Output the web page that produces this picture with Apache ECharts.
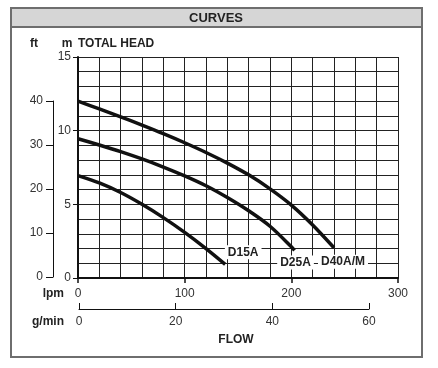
<!DOCTYPE html>
<html><head><meta charset="utf-8">
<script src="https://cdn.jsdelivr.net/npm/echarts@6/dist/echarts.min.js"></script>
<style>html,body{margin:0;padding:0;background:#fff}#c{width:438px;height:368px}</style>
</head><body><div id="c"></div>
<script>
// Flow in lpm, head in m
const d40Flow = [0, 20, 40, 60, 80, 100, 120, 140, 160, 180, 200, 220, 240];
const d40Head = [12.0, 11.48, 10.94, 10.38, 9.8, 9.18, 8.52, 7.8, 7.0, 6.05, 4.95, 3.6, 2.05];
const d25Flow = [0, 20, 40, 60, 80, 100, 120, 140, 160, 180, 200, 203];
const d25Head = [9.45, 9.03, 8.58, 8.08, 7.53, 6.93, 6.26, 5.46, 4.56, 3.51, 2.12, 1.87];
const d15Flow = [0, 20, 40, 60, 80, 100, 120, 138];
const d15Head = [6.95, 6.45, 5.8, 5.0, 4.1, 3.1, 2.0, 0.93];
const seriesNames = ['D15A', 'D25A', 'D40A/M'];
const lpmTicks = [0, 100, 200, 300];
const mTicks = [0, 5, 10, 15];
const ftTicks = [0, 10, 20, 30, 40];
const gpmTicks = [0, 20, 40, 60];

const FONT = 'Liberation Sans, Arial, sans-serif';
const TXT = '#333';
const zip = (a, b) => a.map((v, i) => [v, b[i]]);

function mkSeries(name, flow, head, off) {
  const n = flow.length - 1;
  return {
    name, type: 'line', xAxisIndex: 0, yAxisIndex: 0,
    data: zip(flow, head), smooth: 0.3, showSymbol: false, symbol: 'none',
    lineStyle: { color: '#111', width: 3.5 }, z: 5,
    markPoint: {
      symbol: 'circle', symbolSize: 1, itemStyle: { color: 'rgba(0,0,0,0)' },
      data: [{ coord: [flow[n], head[n]] }],
      label: { show: true, formatter: name, offset: off, color: '#222', fontWeight: 'bold',
        fontSize: 12, fontFamily: FONT, backgroundColor: '#fff', padding: [1, 3] },
      z: 10
    }
  };
}

const chart = echarts.init(document.getElementById('c'), null, { renderer: 'canvas' });
chart.setOption({
  animation: false,
  backgroundColor: '#fff',
  graphic: [
    { type: 'rect', shape: { x: 11, y: 8, width: 411, height: 19 }, style: { fill: '#d6d6d6', stroke: '#6e6e6e', lineWidth: 2 }, z: 1 },
    { type: 'rect', shape: { x: 11, y: 8, width: 411, height: 349 }, style: { fill: 'none', stroke: '#6e6e6e', lineWidth: 2 }, z: 1 },
    { type: 'text', z: 20, x: 216, y: 18, style: { text: 'CURVES', font: 'bold 13px ' + FONT, fill: '#222', align: 'center', verticalAlign: 'middle' } },
    { type: 'text', z: 20, x: 34, y: 44, style: { text: 'ft', font: 'bold 12px ' + FONT, fill: '#222', align: 'center', verticalAlign: 'middle' } },
    { type: 'text', z: 20, x: 67, y: 44, style: { text: 'm', font: 'bold 12px ' + FONT, fill: '#222', align: 'center', verticalAlign: 'middle' } },
    { type: 'text', z: 20, x: 78, y: 44, style: { text: 'TOTAL HEAD', font: 'bold 12px ' + FONT, fill: '#222', align: 'left', verticalAlign: 'middle' } },
    { type: 'text', z: 20, x: 64, y: 294, style: { text: 'lpm', font: 'bold 12px ' + FONT, fill: '#222', align: 'right', verticalAlign: 'middle' } },
    { type: 'text', z: 20, x: 64, y: 322, style: { text: 'g/min', font: 'bold 12px ' + FONT, fill: '#222', align: 'right', verticalAlign: 'middle' } },
    { type: 'text', z: 20, x: 236, y: 340, style: { text: 'FLOW', font: 'bold 12px ' + FONT, fill: '#222', align: 'center', verticalAlign: 'middle' } }
  ],
  grid: [
    { left: 78, top: 57, width: 320, height: 221 },
    { left: 53, top: 101, width: 1, height: 176 },
    { left: 79, top: 300, width: 290, height: 9 }
  ],
  xAxis: [
    { gridIndex: 0, type: 'value', min: lpmTicks[0], max: lpmTicks[lpmTicks.length - 1], interval: 100,
      axisLine: { show: true, lineStyle: { color: '#111', width: 2 } },
      axisTick: { show: true, inside: false, length: 5, lineStyle: { color: '#111', width: 1.5 } },
      axisLabel: { margin: 10, fontSize: 12, color: TXT, fontFamily: FONT },
      splitLine: { show: true, lineStyle: { color: '#222', width: 1 } },
      minorTick: { show: false, splitNumber: 5 },
      minorSplitLine: { show: true, lineStyle: { color: '#222', width: 1 } } },
    { gridIndex: 1, type: 'value', show: false, min: 0, max: 1 },
    { gridIndex: 2, type: 'value', min: gpmTicks[0], max: gpmTicks[gpmTicks.length - 1], interval: 20,
      axisLine: { show: true, lineStyle: { color: '#111', width: 1 } },
      axisTick: { show: true, inside: true, length: 6, lineStyle: { color: '#111', width: 1 } },
      axisLabel: { margin: 7, fontSize: 12, color: TXT, fontFamily: FONT },
      splitLine: { show: false } }
  ],
  yAxis: [
    { gridIndex: 0, type: 'value', min: mTicks[0], max: mTicks[mTicks.length - 1], interval: 5,
      axisLine: { show: true, lineStyle: { color: '#111', width: 2 } },
      axisTick: { show: true, inside: false, length: 5, lineStyle: { color: '#111', width: 1 } },
      axisLabel: { margin: 7, fontSize: 12, color: TXT, fontFamily: FONT },
      splitLine: { show: true, lineStyle: { color: '#222', width: 1 } },
      minorTick: { show: false, splitNumber: 5 },
      minorSplitLine: { show: true, lineStyle: { color: '#222', width: 1 } } },
    { gridIndex: 1, type: 'value', min: ftTicks[0], max: ftTicks[ftTicks.length - 1], interval: 10,
      axisLine: { show: true, lineStyle: { color: '#111', width: 1 } },
      axisTick: { show: true, inside: false, length: 7, lineStyle: { color: '#111', width: 1 } },
      axisLabel: { margin: 10, fontSize: 12, color: TXT, fontFamily: FONT },
      splitLine: { show: false } },
    { gridIndex: 2, type: 'value', show: false, min: 0, max: 1 }
  ],
  series: [
    mkSeries(seriesNames[0], d15Flow, d15Head, [18, -12]),
    mkSeries(seriesNames[1], d25Flow, d25Head, [1, 12]),
    mkSeries(seriesNames[2], d40Flow, d40Head, [9, 14])
  ]
});
</script></body></html>
